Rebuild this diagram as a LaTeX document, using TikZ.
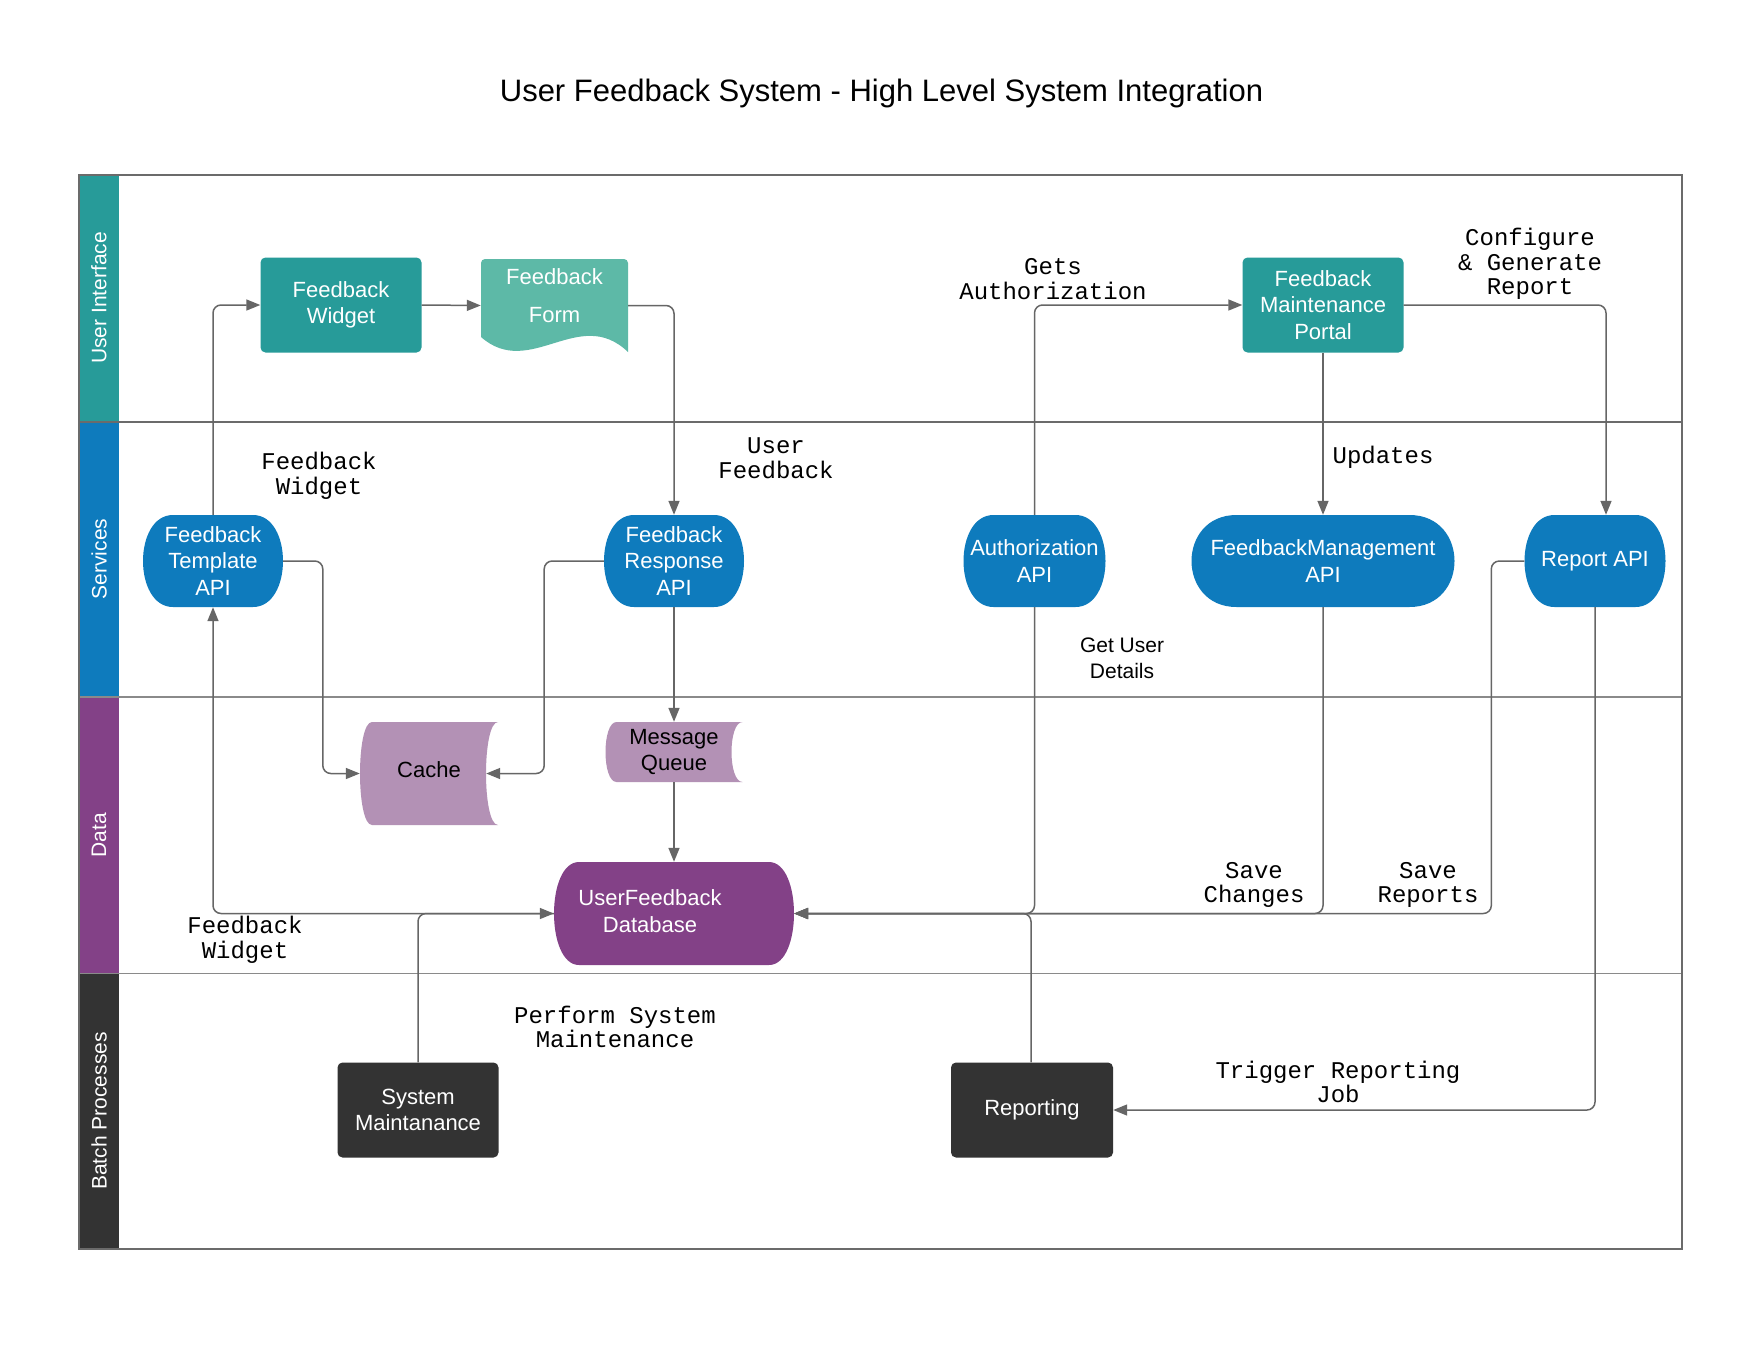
\documentclass[tikz,border=0pt]{standalone}
\usepackage{fontspec}
\setmainfont{Liberation Sans}
\newfontfamily\lblmono{Liberation Mono}
\usetikzlibrary{arrows.meta,calc}

\definecolor{uiteal}{HTML}{279B99}
\definecolor{formteal}{HTML}{5DB9A7}
\definecolor{svcblue}{HTML}{0E7BBD}
\definecolor{datapurple}{HTML}{834187}
\definecolor{lightpurple}{HTML}{B391B5}
\definecolor{batchdark}{HTML}{333333}
\definecolor{linegray}{HTML}{666666}
\definecolor{framegray}{HTML}{6B6B6B}
\definecolor{divgray}{HTML}{8A8A8A}

\tikzset{
  box/.style={draw=none, inner sep=0pt, align=center, text=white,
    font=\fontsize{22}{26.5}\selectfont},
  rbox/.style={box, fill=#1, rounded corners=5pt},
  bulgebox/.style n args={2}{box, path picture={
     \fill[#1] let \p1=(path picture bounding box.north west),
                   \p2=(path picture bounding box.south east) in
       (\x1+#2,\y1) -- (\x2-#2,\y1)
       .. controls (\x2+#2/3,\y1) and (\x2+#2/3,\y2) .. (\x2-#2,\y2)
       -- (\x1+#2,\y2)
       .. controls (\x1-#2/3,\y2) and (\x1-#2/3,\y1) .. (\x1+#2,\y1) -- cycle;}},
  storebox/.style n args={2}{box, text=black, path picture={
     \fill[#1] let \p1=(path picture bounding box.north west),
                   \p2=(path picture bounding box.south east) in
       (\x1+#2,\y1) -- (\x2,\y1)
       .. controls (\x2-4*#2/3,\y1) and (\x2-4*#2/3,\y2) .. (\x2,\y2)
       -- (\x1+#2,\y2)
       .. controls (\x1-#2/3,\y2) and (\x1-#2/3,\y1) .. (\x1+#2,\y1) -- cycle;}},
  docbox/.style={box, path picture={
     \fill[#1, rounded corners=4pt] let \p1=(path picture bounding box.north west),
                   \p2=(path picture bounding box.south east), \n1={\x2-\x1} in
       (\x1,\y2+15pt) -- (\x1,\y1) -- (\x2,\y1) [sharp corners] -- (\x2,\y2)
       .. controls (\x2-\n1/3,\y2+47pt) and (\x1+\n1/3,\y2-28pt) .. (\x1,\y2+15pt) -- cycle;}},
  lane/.style={rotate=90, text=white, font=\fontsize{21}{25}\selectfont},
  conn/.style={draw=linegray, line width=1.5pt, rounded corners=8pt,
    -{Triangle[length=14pt,width=11pt]}},
  lbl/.style={font=\lblmono\fontsize{24}{24.7}\selectfont, align=center, inner sep=0pt},
  slbl/.style={font=\fontsize{21}{26}\selectfont, align=center, inner sep=0pt},
}

\begin{document}
\begin{tikzpicture}[x=1pt,y=-1pt]
\fill[white] (0,0) rectangle (1763,1360);
\useasboundingbox (0,0) rectangle (1763,1360);

% title
\node[font=\fontsize{31}{37}\selectfont] (title) at (881.5,93.5)
  {User Feedback System - High Level System Integration};

% lane header strips
\fill[uiteal] (79,175) rectangle (119,421.5);
\fill[svcblue] (79,421.5) rectangle (119,697);
\fill[datapurple] (79,697) rectangle (119,973.5);
\fill[batchdark] (79,973.5) rectangle (119,1249);
\draw[divgray, line width=1.3pt] (79,697) -- (1682,697);
\draw[divgray, line width=1.3pt] (79,973.5) -- (1682,973.5);
\draw[framegray, line width=2pt] (79,421.5) -- (1682,421.5);
\draw[framegray, line width=2pt] (79,175) rectangle (1682,1249);

\node[lane] (lui) at (99,298) {User Interface};
\node[lane] (lsvc) at (99,559) {Services};
\node[lane] (ldata) at (99,835) {Data};
\node[lane] (lbatch) at (99,1111) {Batch Processes};

% nodes
\node[rbox=uiteal, minimum width=161pt, minimum height=95pt] (widget) at (341,305) {Feedback\\Widget};
\node[docbox=formteal, minimum width=147pt, minimum height=93pt] (form) at (554.5,305.5)
  {\raisebox{4pt}[0pt][0pt]{\fontsize{22}{38}\selectfont\begin{tabular}{@{}c@{}}Feedback\\Form\end{tabular}}};
\node[rbox=uiteal, minimum width=161pt, minimum height=95pt] (portal) at (1323,305) {Feedback\\Maintenance\\Portal};

\node[bulgebox={svcblue}{30pt}, minimum width=140pt, minimum height=92pt] (tapi) at (213,561) {Feedback\\Template\\API};
\node[bulgebox={svcblue}{30pt}, minimum width=140pt, minimum height=92pt] (rapi) at (674,561) {Feedback\\Response\\API};
\node[bulgebox={svcblue}{30pt}, minimum width=142pt, minimum height=92pt] (aapi) at (1034.5,561) {Authorization\\API};
\node[bulgebox={svcblue}{45pt}, minimum width=263pt, minimum height=92pt] (fmapi) at (1323,561) {FeedbackManagement\\API};
\node[bulgebox={svcblue}{30pt}, minimum width=141pt, minimum height=92pt] (rpapi) at (1595,561) {Report API};

\node[storebox={lightpurple}{12pt}, minimum width=138pt, minimum height=103pt] (cache) at (429,773.5)
  {\raisebox{-4pt}[0pt][0pt]{Cache}};
\node[storebox={lightpurple}{11pt}, minimum width=137pt, minimum height=60pt] (mq) at (674,752) {Message\\Queue};
\node[bulgebox={datapurple}{25pt}, minimum width=240pt, minimum height=103pt] (db) at (674,913.5)
  {\begin{tabular}{@{}c@{}}UserFeedback\\Database\end{tabular}\hspace{48pt}};

\node[rbox=batchdark, minimum width=161pt, minimum height=95pt] (sm) at (418,1110) {System\\Maintanance};
\node[rbox=batchdark, minimum width=162pt, minimum height=95pt] (rep) at (1032,1110) {Reporting};

% connectors
\draw[conn] (tapi.north) |- (widget.west);
\draw[conn] (widget.east) -- (form.west);
\draw[conn] (form.east) -| (rapi.north);
\draw[conn] (rapi.west) -| ([xshift=46pt]cache.east) -- ([xshift=-12pt]cache.east);
\draw[conn] (tapi.east) -| ([xshift=-37pt]cache.west) -- (cache.west);
\draw[conn] (rapi.south) -- (mq.north);
\draw[conn] (mq.south) -- (db.north);
\draw[conn] (db.west) -| (tapi.south);
\draw[conn] (sm.north) |- (db.west);
\draw[conn] (aapi.north) |- (portal.west);
\draw[conn] (aapi.south) |- (db.east);
\draw[conn] ([xshift=-1pt]rep.north) |- (db.east);
\draw[conn] (portal.south) -- (fmapi.north);
\draw[conn] (portal.east) -| ([xshift=11pt]rpapi.north);
\draw[conn] (fmapi.south) |- (db.east);
\draw[conn] (rpapi.west) -- ([xshift=-33pt]rpapi.west) |- (db.east);
\draw[conn] (rpapi.south) |- (rep.east);

% connector labels
\node[lbl] (l1) at (319,476) {Feedback\\Widget};
\node[lbl] (l2) at (776,458) {User\\Feedback};
\node[lbl] (l3) at (1053,279) {Gets\\Authorization};
\node[lbl] (l4) at (1530,264) {Configure\\\& Generate\\Report};
\node[lbl] (l5) at (1383,457) {Updates};
\node[slbl] (l6) at (1122,658) {Get User\\Details};
\node[lbl] (l7) at (1254,885) {Save\\Changes};
\node[lbl] (l8) at (1428,885) {Save\\Reports};
\node[lbl] (l9) at (245,940) {Feedback\\Widget};
\node[lbl] (l10) at (615,1027) {Perform System\\Maintenance};
\node[lbl] (l11) at (1338,1082) {Trigger Reporting\\Job};
\end{tikzpicture}
\end{document}
